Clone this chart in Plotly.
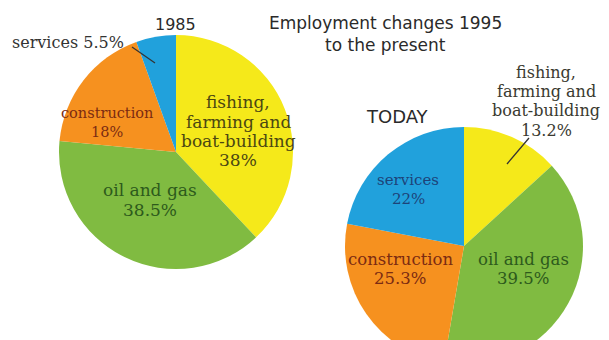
import plotly.graph_objects as go

# Employment shares by sector (percent)
sectors = ["fishing, farming and boat-building", "oil and gas", "construction", "services"]
share_1985 = [38, 38.5, 18, 5.5]
share_today = [13.2, 39.5, 25.3, 22]

slice_colors = ["#f5e91a", "#80bb41", "#f6911f", "#21a1dc"]
text_colors = ["#4b4712", "#2d5a1c", "#7b2b12", "#1d4379"]

W, H = 609, 372
SERIF = "DejaVu Serif"
SANS = "DejaVu Sans"


def domain(cx, cy, r):
    """Square pie domain (paper fractions) from a centre and radius in pixels."""
    return dict(x=[(cx - r) / W, (cx + r) / W], y=[1 - (cy + r) / H, 1 - (cy - r) / H])


fig = go.Figure()
for values, (cx, cy, r) in [(share_1985, (176, 152, 117)), (share_today, (464, 246, 119))]:
    fig.add_trace(go.Pie(
        labels=sectors, values=values, sort=False, direction="clockwise", rotation=0,
        marker=dict(colors=slice_colors, line=dict(width=0)),
        textinfo="none", hoverinfo="label+value", showlegend=False,
        domain=domain(cx, cy, r),
    ))


def px(x, y):
    return x / W, 1 - y / H


def label(lines, x, y, size, color, step=0, family=SERIF):
    """Centred text block; each line placed `step` pixels below the previous one."""
    for i, line in enumerate(lines):
        xp, yp = px(x, y + i * step)
        fig.add_annotation(x=xp, y=yp, xref="paper", yref="paper", text=line, showarrow=False,
                           xanchor="center", yanchor="middle",
                           font=dict(family=family, size=size, color=color))


def pct(v):
    return f"{v:g}%"


fish_lines = sectors[0].replace(", ", ",|").replace(" and ", " and|").split("|")

# 1985 pie
label(fish_lines + [pct(share_1985[0])], 238, 102, 17, text_colors[0], 19.5)
label([sectors[1], pct(share_1985[1])], 150, 190, 17, text_colors[1], 19.5)
label([sectors[2], pct(share_1985[2])], 107, 113, 14.5, text_colors[2], 19)
label([f"{sectors[3]} {pct(share_1985[3])}"], 68, 42, 16, "#333333")

# today pie
label(fish_lines + [pct(share_today[0])], 546, 72, 16, "#3a3a30", 19.5)
label([sectors[1], pct(share_today[1])], 523, 259, 16.5, text_colors[1], 19.5)
label([sectors[2], pct(share_today[2])], 400, 259, 16.5, text_colors[2], 19.5)
label([sectors[3], pct(share_today[3])], 408, 180, 15, text_colors[3], 18.5)

# headings
label(["1985"], 175, 25, 16, "#2a2a2a", family=SANS)
label(["Employment changes 1995", "to the present"], 385, 23, 17, "#2a2a2a", 22, SANS)
label(["TODAY"], 397, 117, 18, "#2a2a2a", family=SANS)

# leader lines for the small outside labels
for (x0, y0), (x1, y1) in [((132, 47), (155, 63)), ((529, 138), (507, 164))]:
    a, b = px(x0, y0)
    c, d = px(x1, y1)
    fig.add_shape(type="line", xref="paper", yref="paper", x0=a, y0=b, x1=c, y1=d,
                  line=dict(color="#333333", width=1.3))

fig.update_layout(
    width=W, height=H, autosize=False,
    margin=dict(l=0, r=0, t=0, b=0),
    paper_bgcolor="white", plot_bgcolor="white",
)

fig.write_html("out.html", post_script="document.documentElement.style.overflow='hidden';document.body.style.margin='0';")
